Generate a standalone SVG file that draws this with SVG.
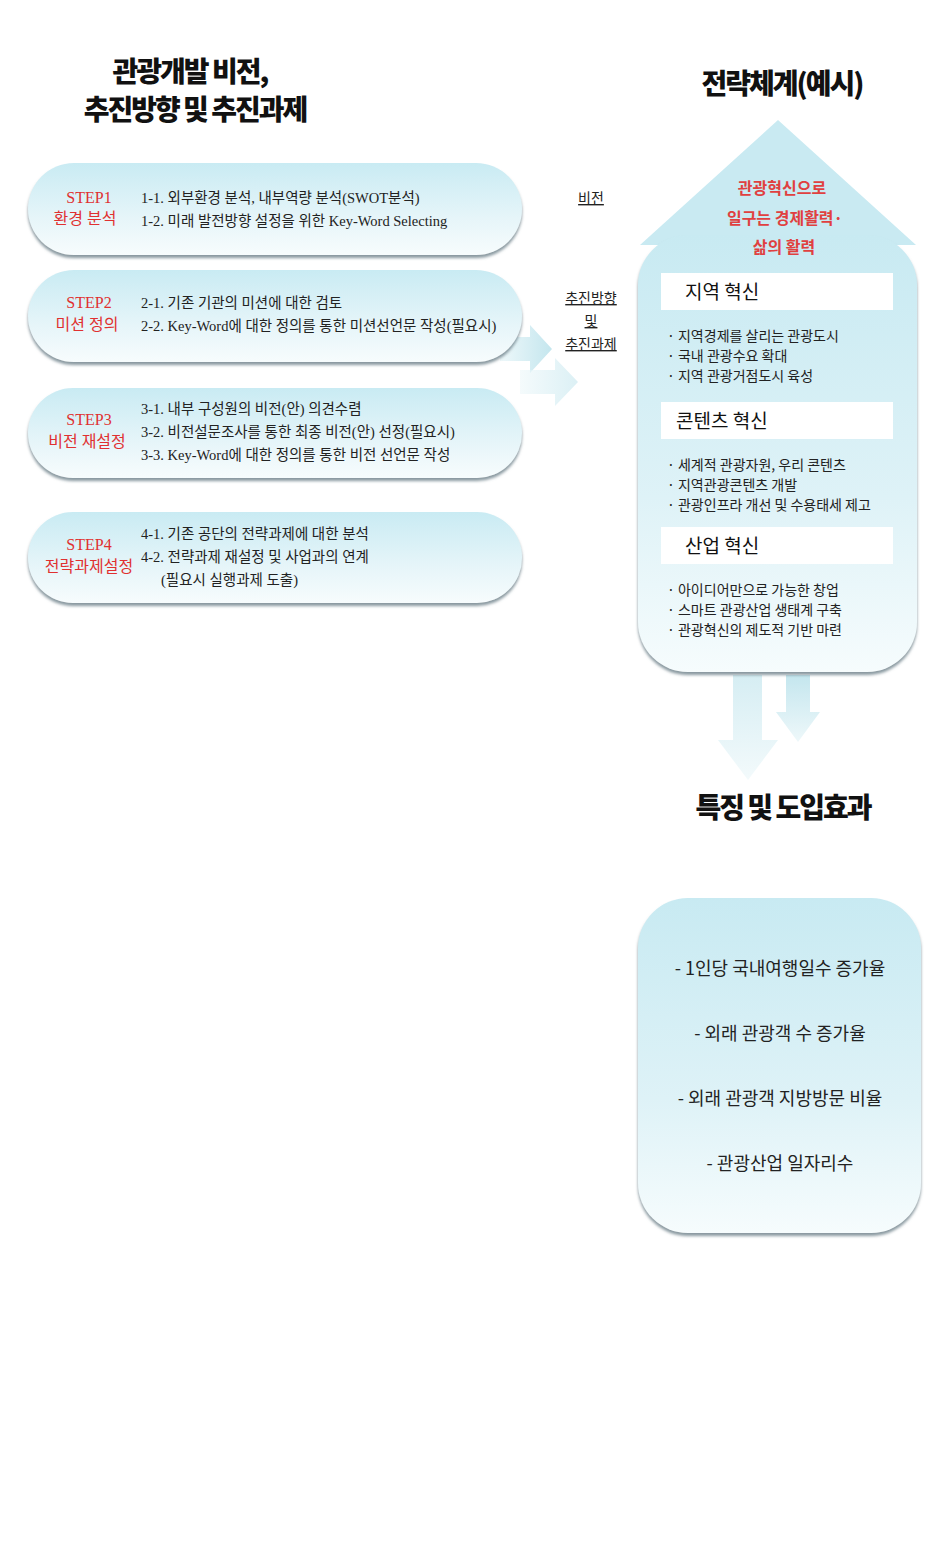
<svg xmlns="http://www.w3.org/2000/svg" width="948" height="1562" viewBox="0 0 948 1562">
<defs>
<linearGradient id="pill" x1="0" y1="0" x2="0" y2="1">
<stop offset="0" stop-color="#c9ebf3"/><stop offset="0.6" stop-color="#e6f5f9"/><stop offset="1" stop-color="#f7fcfd"/>
</linearGradient>
<linearGradient id="house" x1="0" y1="0" x2="0" y2="1">
<stop offset="0" stop-color="#c8eaf2"/><stop offset="0.6" stop-color="#def2f7"/><stop offset="1" stop-color="#f6fcfd"/>
</linearGradient>
<linearGradient id="arr" x1="0" y1="0" x2="0" y2="1">
<stop offset="0" stop-color="#c4e6ee"/><stop offset="1" stop-color="#eef8fa"/>
</linearGradient>
<linearGradient id="arrh" x1="0" y1="0" x2="1" y2="0">
<stop offset="0" stop-color="#eef8fa"/><stop offset="1" stop-color="#c4e6ee"/>
</linearGradient>
<filter id="sh" x="-10%" y="-20%" width="120%" height="150%">
<feDropShadow dx="0" dy="3" stdDeviation="1.5" flood-color="#6a7f88" flood-opacity="0.8"/>
</filter>
<style>
.t{font-family:"Noto Sans CJK KR",sans-serif;font-weight:900;font-size:28px;fill:#111;letter-spacing:-2px}
.s{font-family:"Liberation Serif","Noto Sans CJK KR",serif;font-size:14.5px;fill:#222}
.r{font-family:"Liberation Serif","Noto Sans CJK KR",serif;font-size:16px;fill:#e03030}
.u{font-family:"Liberation Serif","Noto Sans CJK KR",serif;font-size:14px;fill:#222;text-decoration:underline}
.k{font-family:"Noto Sans CJK KR",sans-serif;font-size:14px;fill:#222}
.h{font-family:"Noto Sans CJK KR",sans-serif;font-size:19px;fill:#111}
.v{font-family:"Noto Sans CJK KR",sans-serif;font-size:16px;fill:#e04040;font-weight:bold}
.e{font-family:"Noto Sans CJK KR",sans-serif;font-size:18px;fill:#222}
</style>
</defs>
<rect width="948" height="1562" fill="#fff"/>
<text class="t" x="190" y="82" text-anchor="middle">관광개발 비전,</text>
<text class="t" x="195" y="120" text-anchor="middle">추진방향 및 추진과제</text>
<text class="t" x="782" y="94" text-anchor="middle">전략체계(예시)</text>
<text class="t" x="783" y="818" text-anchor="middle">특징 및 도입효과</text>
<g id="connectors">
<polygon points="500,337 530,337 530,325 552,349 530,373 530,361 500,361" fill="url(#arrh)"/>
<polygon points="520,370 555,370 555,358 578,382 555,406 555,394 520,394" fill="url(#arrh)" opacity="0.6"/>
<polygon points="733,675 762,675 762,740 778,740 748,780 718,740 733,740" fill="url(#arr)" opacity="0.7"/>
<polygon points="786,675 810,675 810,712 820,712 798,742 776,712 786,712" fill="url(#arr)"/>
</g>
<g id="step1">
<rect x="28" y="163" width="494" height="92" rx="46" fill="url(#pill)" filter="url(#sh)"/>
<text class="r" x="89" y="203" text-anchor="middle">STEP1</text>
<text class="r" x="85" y="224" text-anchor="middle">환경 분석</text>
<text class="s" x="141" y="203">1-1. 외부환경 분석, 내부역량 분석(SWOT분석)</text>
<text class="s" x="141" y="226">1-2. 미래 발전방향 설정을 위한 Key-Word Selecting</text>
</g>
<g id="step2">
<rect x="28" y="270" width="494" height="92" rx="46" fill="url(#pill)" filter="url(#sh)"/>
<text class="r" x="89" y="308" text-anchor="middle">STEP2</text>
<text class="r" x="87" y="330" text-anchor="middle">미션 정의</text>
<text class="s" x="141" y="308">2-1. 기존 기관의 미션에 대한 검토</text>
<text class="s" x="141" y="331">2-2. Key-Word에 대한 정의를 통한 미션선언문  작성(필요시)</text>
</g>
<g id="step3">
<rect x="28" y="388" width="494" height="90" rx="45" fill="url(#pill)" filter="url(#sh)"/>
<text class="r" x="89" y="425" text-anchor="middle">STEP3</text>
<text class="r" x="87" y="447" text-anchor="middle">비전 재설정</text>
<text class="s" x="141" y="414">3-1. 내부 구성원의 비전(안) 의견수렴</text>
<text class="s" x="141" y="437">3-2. 비전설문조사를 통한 최종 비전(안) 선정(필요시)</text>
<text class="s" x="141" y="460">3-3. Key-Word에 대한 정의를 통한 비전 선언문 작성</text>
</g>
<g id="step4">
<rect x="28" y="512" width="494" height="91" rx="45" fill="url(#pill)" filter="url(#sh)"/>
<text class="r" x="89" y="550" text-anchor="middle">STEP4</text>
<text class="r" x="89" y="572" text-anchor="middle">전략과제설정</text>
<text class="s" x="141" y="539">4-1. 기존 공단의 전략과제에 대한 분석</text>
<text class="s" x="141" y="562">4-2. 전략과제 재설정 및 사업과의 연계</text>
<text class="s" x="161" y="585">(필요시 실행과제 도출)</text>
</g>
<g id="labels">
<text class="u" x="591" y="203" text-anchor="middle">비전</text>
<text class="u" x="591" y="303" text-anchor="middle">추진방향</text>
<text class="u" x="591" y="326" text-anchor="middle">및</text>
<text class="u" x="591" y="349" text-anchor="middle">추진과제</text>
</g>
<g id="strategy">
<polygon points="778,120 916,245 640,245" fill="#c9eaf2"/>
<rect x="638" y="235" width="279" height="437" rx="50" fill="url(#house)" filter="url(#sh)"/>
<text class="v" x="782" y="194" text-anchor="middle">관광혁신으로</text>
<text class="v" x="785" y="224" text-anchor="middle">일구는 경제활력·</text>
<text class="v" x="784" y="253" text-anchor="middle">삶의 활력</text>
<rect x="661" y="273" width="232" height="37" fill="#fff"/>
<text class="h" x="685" y="299">지역 혁신</text>
<text class="k" x="667" y="341">· 지역경제를 살리는 관광도시</text>
<text class="k" x="667" y="361">· 국내 관광수요 확대</text>
<text class="k" x="667" y="381">· 지역 관광거점도시 육성</text>
<rect x="661" y="402" width="232" height="37" fill="#fff"/>
<text class="h" x="676" y="428">콘텐츠 혁신</text>
<text class="k" x="667" y="470">· 세계적 관광자원, 우리 콘텐츠</text>
<text class="k" x="667" y="490">· 지역관광콘텐츠 개발</text>
<text class="k" x="667" y="510">· 관광인프라 개선 및 수용태세 제고</text>
<rect x="661" y="527" width="232" height="37" fill="#fff"/>
<text class="h" x="685" y="553">산업 혁신</text>
<text class="k" x="667" y="595">· 아이디어만으로 가능한 창업</text>
<text class="k" x="667" y="615">· 스마트 관광산업 생태계 구축</text>
<text class="k" x="667" y="635">· 관광혁신의 제도적 기반 마련</text>
</g>
<g id="effects">
<rect x="638" y="898" width="283" height="335" rx="50" fill="url(#house)" filter="url(#sh)"/>
<text class="e" x="780" y="975" text-anchor="middle">- 1인당 국내여행일수 증가율</text>
<text class="e" x="780" y="1040" text-anchor="middle">- 외래 관광객 수 증가율</text>
<text class="e" x="780" y="1105" text-anchor="middle">- 외래 관광객 지방방문 비율</text>
<text class="e" x="780" y="1170" text-anchor="middle">- 관광산업 일자리수</text>
</g>
</svg>
